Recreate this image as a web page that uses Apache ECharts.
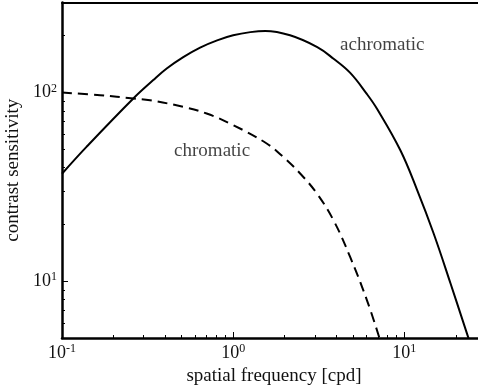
<!DOCTYPE html>
<html>
<head>
<meta charset="utf-8">
<script src="https://cdn.jsdelivr.net/npm/echarts@6/dist/echarts.min.js"></script>
<style>html,body{margin:0;padding:0;background:#fff;}#c{width:478px;height:387px;}</style>
</head>
<body>
<div id="c"></div>
<script>
// spatial frequency [cpd], contrast sensitivity
const achromaticFreq = [0.1, 0.139, 0.261, 0.34, 0.409, 0.511, 0.641, 0.806, 1.0, 1.26, 1.54, 2.15, 3.10, 3.86, 4.83, 6.05, 6.95, 9.48, 11.9, 14.8, 18.6, 23.7];
const achromaticSens = [37.1, 51.5, 93, 116, 134, 154, 173, 189, 201, 209, 212, 201, 174, 151, 127, 98, 81.5, 49.4, 30.3, 18.0, 9.75, 4.99];
const chromaticFreq = [0.1, 0.167, 0.261, 0.327, 0.512, 0.70, 1.0, 1.57, 1.96, 2.47, 3.08, 3.86, 4.83, 6.05, 7.18];
const chromaticSens = [100, 96.8, 93, 91, 83.9, 77.4, 67.2, 53.7, 45.6, 37.1, 29.2, 21.0, 13.4, 7.92, 4.95];
const xMajorTicks = [0.1, 1, 10];
const xMinorTicks = [0.2,0.3,0.4,0.5,0.6,0.7,0.8,0.9,2,3,4,5,6,7,8,9,20];
const yMajorTicks = [10, 100];
const yMinorTicks = [6,7,8,9,20,30,40,50,60,70,80,90,200];
const xTickLabels = {0.1: '10{s|-1}', 1: '10{s|0}', 10: '10{s|1}'};
const yTickLabels = {10: '10{s|1}', 100: '10{s|2}'};
const seriesNames = ['achromatic', 'chromatic'];
const annotationPos = [[7.43, 178], [0.753, 48.9]];

const FONT = "'Liberation Serif','Times New Roman',serif";
const TXT = '#111';
const xMin = 0.1, xMax = 30, yMin = 5, yMax = 300;
const richLab = {s: {fontSize: 12, fontFamily: FONT, color: TXT, verticalAlign: 'bottom', padding: [0,0,8,0]}};

const chart = echarts.init(document.getElementById('c'), null, {renderer: 'canvas'});
const base = {type: 'log', logBase: 10, splitLine: {show: false}};
chart.setOption({
  animation: false,
  backgroundColor: '#fff',
  grid: {left: 62, right: -8, top: 2.5, bottom: 49, containLabel: false, outerBoundsMode: 'none'},
  xAxis: [
    Object.assign({}, base, {
      min: xMin, max: xMax,
      name: 'spatial frequency [cpd]', nameLocation: 'middle', nameGap: 26,
      nameTextStyle: {fontFamily: FONT, fontSize: 19, color: TXT},
      axisLine: {lineStyle: {color: '#000', width: 2.5}},
      axisTick: {inside: true, length: 6, lineStyle: {color: '#000', width: 1}, customValues: xMajorTicks},
      axisLabel: {customValues: xMajorTicks, margin: 5, fontFamily: FONT, fontSize: 18, color: TXT,
        formatter: v => xTickLabels[+v.toPrecision(3)] || '', rich: richLab}
    }),
    Object.assign({}, base, {
      min: xMin, max: xMax, position: 'bottom',
      axisLine: {show: false},
      axisTick: {inside: true, length: 3, lineStyle: {color: '#000', width: 1}, customValues: xMinorTicks},
      axisLabel: {show: false}
    }),
    Object.assign({}, base, {
      min: xMin, max: xMax, position: 'top',
      axisLine: {lineStyle: {color: '#000', width: 2}},
      axisTick: {show: false}, axisLabel: {show: false}
    })
  ],
  yAxis: [
    Object.assign({}, base, {
      min: yMin, max: yMax,
      name: 'contrast sensitivity', nameLocation: 'middle', nameGap: 21,
      nameTextStyle: {fontFamily: FONT, fontSize: 19, color: TXT},
      axisLine: {lineStyle: {color: '#000', width: 2.5}},
      axisTick: {inside: true, length: 6, lineStyle: {color: '#000', width: 1}, customValues: yMajorTicks},
      axisLabel: {customValues: yMajorTicks, margin: 5, fontFamily: FONT, fontSize: 18, color: TXT,
        formatter: v => yTickLabels[+v.toPrecision(3)] || '', rich: richLab}
    }),
    Object.assign({}, base, {
      min: yMin, max: yMax, position: 'left',
      axisLine: {show: false},
      axisTick: {inside: true, length: 3, lineStyle: {color: '#000', width: 1}, customValues: yMinorTicks},
      axisLabel: {show: false}
    })
  ],
  series: [
    {
      name: seriesNames[0], type: 'line', smooth: 0.4, symbol: 'none', clip: true,
      data: achromaticFreq.map((f, i) => [f, achromaticSens[i]]),
      lineStyle: {color: '#000', width: 2}
    },
    {
      name: seriesNames[1], type: 'line', smooth: 0.4, symbol: 'none', clip: true,
      data: chromaticFreq.map((f, i) => [f, chromaticSens[i]]),
      lineStyle: {color: '#000', width: 2, type: [10, 6]}
    },
    {
      type: 'scatter', symbolSize: 0, silent: true,
      data: annotationPos.map((p, i) => ({value: p, name: seriesNames[i]})),
      label: {show: true, position: 'inside', formatter: p => p.name,
        fontFamily: FONT, fontSize: 19, color: TXT}
    }
  ]
});
</script>
</body>
</html>
